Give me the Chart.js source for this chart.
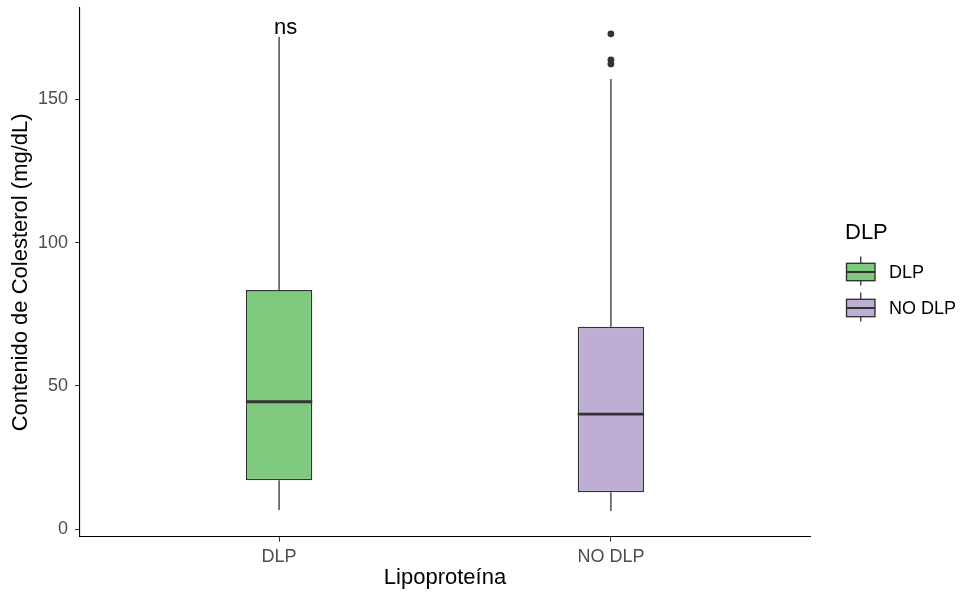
<!DOCTYPE html>
<html>
<head>
<meta charset="utf-8">
<script src="https://cdn.jsdelivr.net/npm/chart.js@4/dist/chart.umd.min.js"></script>
<style>
  html, body { margin: 0; padding: 0; background: #ffffff; }
  canvas { display: block; }
</style>
</head>
<body>
<canvas id="c" width="962" height="595"></canvas>
<script>
// ---------------- data ----------------
const categories    = ['DLP', 'NO DLP'];
const catPositions  = [1, 2];
const lowerWhisker  = [6.7, 6.4];
const q1Values      = [17.1, 12.9];
const medianValues  = [44.5, 40.2];
const q3Values      = [83.5, 70.7];
const upperWhisker  = [171.9, 157.1];
const outlierGroup  = [2, 2, 2];
const outlierValues = [172.9, 163.8, 162.4];
const yTickValues   = [0, 50, 100, 150];
const legendTitle   = 'DLP';
const legendLabels  = ['DLP', 'NO DLP'];
const annotationLabel = 'ns';
const annotationX   = 1.02;
const annotationY   = 173;
const xTitle = 'Lipoproteína';
const yTitle = 'Contenido de Colesterol (mg/dL)';

// ---------------- style ----------------
const fillColors = ['#7FC97F', '#BEAED4'];
const lineColor = '#333333';
const boxWidth = 0.2;
const FONT = '"Liberation Sans", Arial, sans-serif';

// ---------------- datasets ----------------
const datasets = [];
datasets.push({
  type: 'bar',
  label: 'box',
  data: catPositions.map((p, i) => ({ x: p, y: [q1Values[i], q3Values[i]] })),
  backgroundColor: fillColors,
  borderColor: lineColor,
  borderWidth: 1.5,
  borderSkipped: false,
  categoryPercentage: 1,
  barPercentage: boxWidth,
  order: 3
});
catPositions.forEach((p, i) => {
  datasets.push({
    type: 'line', label: 'upper', order: 2,
    data: [{ x: p, y: q3Values[i] }, { x: p, y: upperWhisker[i] }],
    borderColor: lineColor, borderWidth: 1.3, pointRadius: 0, fill: false
  });
  datasets.push({
    type: 'line', label: 'lower', order: 2,
    data: [{ x: p, y: lowerWhisker[i] }, { x: p, y: q1Values[i] }],
    borderColor: lineColor, borderWidth: 1.3, pointRadius: 0, fill: false
  });
  datasets.push({
    type: 'line', label: 'median', order: 1,
    data: [{ x: p - boxWidth / 2, y: medianValues[i] }, { x: p + boxWidth / 2, y: medianValues[i] }],
    borderColor: lineColor, borderWidth: 2.8, pointRadius: 0, fill: false, borderCapStyle: 'butt'
  });
});
datasets.push({
  type: 'scatter', label: 'outliers', order: 0,
  data: outlierGroup.map((g, i) => ({ x: g, y: outlierValues[i] })),
  pointRadius: 3.4, backgroundColor: lineColor, borderWidth: 0, showLine: false
});

// ---------------- plugins ----------------
const annotationPlugin = {
  id: 'nsLabel',
  afterDatasetsDraw(chart) {
    const ctx = chart.ctx;
    const x = chart.scales.x.getPixelForValue(annotationX);
    const y = chart.scales.y.getPixelForValue(annotationY);
    ctx.save();
    ctx.font = '22px ' + FONT;
    ctx.fillStyle = '#000';
    ctx.textAlign = 'center';
    ctx.textBaseline = 'alphabetic';
    ctx.fillText(annotationLabel, x, y);
    ctx.restore();
  }
};

const legendPlugin = {
  id: 'boxLegend',
  afterDraw(chart) {
    const ctx = chart.ctx;
    const left = chart.chartArea.right + 35;
    ctx.save();
    ctx.fillStyle = '#000';
    ctx.font = '22px ' + FONT;
    ctx.textAlign = 'left';
    ctx.textBaseline = 'middle';
    ctx.fillText(legendTitle, left, 233);
    legendLabels.forEach((lab, i) => {
      const cy = 272 + i * 36;
      const kx = left + 1.5, kw = 28.5, kh = 17.4;
      ctx.strokeStyle = lineColor;
      ctx.lineWidth = 1.3;
      ctx.beginPath();
      ctx.moveTo(kx + kw / 2, cy - 15.5); ctx.lineTo(kx + kw / 2, cy - kh / 2);
      ctx.moveTo(kx + kw / 2, cy + kh / 2); ctx.lineTo(kx + kw / 2, cy + 13.5);
      ctx.stroke();
      ctx.fillStyle = fillColors[i];
      ctx.fillRect(kx, cy - kh / 2, kw, kh);
      ctx.lineWidth = 1.4;
      ctx.strokeRect(kx, cy - kh / 2, kw, kh);
      ctx.lineWidth = 2;
      ctx.beginPath();
      ctx.moveTo(kx, cy); ctx.lineTo(kx + kw, cy);
      ctx.stroke();
      ctx.fillStyle = '#000';
      ctx.font = '18px ' + FONT;
      ctx.fillText(lab, left + 44, cy + 1);
    });
    ctx.restore();
  }
};

// ---------------- chart ----------------
new Chart(document.getElementById('c'), {
  type: 'bar',
  data: { datasets },
  options: {
    responsive: false,
    devicePixelRatio: 1,
    animation: false,
    layout: { padding: { left: 0, right: 152, top: 8, bottom: 0 } },
    plugins: { legend: { display: false }, tooltip: { enabled: false } },
    scales: {
      x: {
        type: 'linear',
        offset: false,
        min: 0.4, max: 2.6,
        afterBuildTicks: (s) => { s.ticks = catPositions.map(v => ({ value: v })); },
        afterFit: (s) => { s.height = 58.3; s.paddingLeft = 0; s.paddingRight = 0; },
        ticks: {
          callback: (v) => categories[catPositions.indexOf(v)],
          font: { family: FONT, size: 18 },
          color: '#4D4D4D',
          padding: 5,
          maxRotation: 0, autoSkip: false
        },
        grid: { offset: false, drawOnChartArea: false, drawTicks: true, tickLength: 5, color: lineColor, lineWidth: 1 },
        border: { display: true, color: '#000', width: 1.1 },
        title: {
          display: true, text: xTitle,
          font: { family: FONT, size: 22 }, color: '#000',
          padding: { top: 0, bottom: 4 }
        }
      },
      y: {
        type: 'linear',
        min: -2.6, max: 181.9,
        afterBuildTicks: (s) => { s.ticks = yTickValues.map(v => ({ value: v })); },
        afterFit: (s) => { s.width = 80; s.paddingTop = 0; s.paddingBottom = 0; },
        ticks: {
          font: { family: FONT, size: 18 },
          color: '#4D4D4D',
          padding: 7
        },
        grid: { drawOnChartArea: false, drawTicks: true, tickLength: 5, color: lineColor, lineWidth: 1 },
        border: { display: true, color: '#000', width: 1.1 },
        title: {
          display: true, text: yTitle,
          font: { family: FONT, size: 22 }, color: '#000',
          padding: { top: 8, bottom: 0 }
        }
      }
    }
  },
  plugins: [annotationPlugin, legendPlugin]
});
</script>
</body>
</html>
